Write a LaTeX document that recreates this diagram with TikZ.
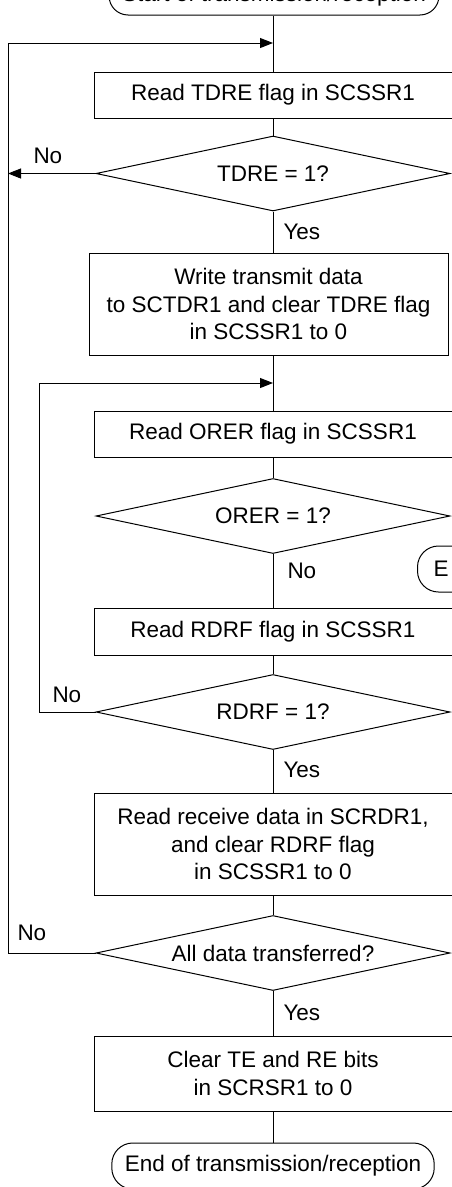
\documentclass[tikz,border=0pt]{standalone}
\usepackage{fontspec}
\setmainfont{Liberation Sans}
\usepackage{tikz}
\usetikzlibrary{arrows.meta,calc,positioning,shapes.geometric}
\newcommand{\flowfont}{\fontsize{22.5pt}{27.5pt}\selectfont}

\begin{document}
\begin{tikzpicture}[x=1pt, y=-1pt, line width=1pt, >={Triangle[length=13pt,width=10pt]},
  every node/.style={font=\flowfont},
  proc/.style={draw, rectangle, align=center, inner sep=0pt, minimum width=358pt},
  decide/.style={draw, diamond, aspect=4.72, inner sep=0pt, minimum width=354pt, minimum height=75pt},
  term/.style={draw, rectangle, rounded corners=21pt, minimum height=46pt, inner xsep=13pt},
  lbl/.style={inner sep=0pt, anchor=west}]
  \useasboundingbox (0,0) rectangle (451,1187);
  \node[term, minimum width=322pt, minimum height=38pt, rounded corners=19pt] (Start) at (274,-4) {Start of transmission/reception};
  \coordinate (J1) at (273,43);
  \coordinate (J2) at (273,383);
  \coordinate (L1) at (8,43);
  \coordinate (L2) at (39,383);
  \node[proc, minimum height=46pt] (RdTDRE) at (273,95) {Read TDRE flag in SCSSR1};
  \node[decide] (QTDRE) at (273,173.5) {TDRE = 1?};
  \node[proc, minimum width=359pt, minimum height=102pt] (WrTx) at (268.5,304) {Write transmit data\\to SCTDR1 and clear TDRE flag\\in SCSSR1 to 0};
  \node[proc, minimum height=46pt] (RdORER) at (273,434) {Read ORER flag in SCSSR1};
  \node[decide] (QORER) at (273,516) {ORER = 1?};
  \node[term, anchor=west, text width=90pt, align=left, inner xsep=16pt] (Err) at (417,569) {E};
  \node[proc, minimum height=47pt] (RdRDRF) at (273,631.5) {Read RDRF flag in SCSSR1};
  \node[decide] (QRDRF) at (273,712) {RDRF = 1?};
  \node[proc, minimum height=102pt] (RdRx) at (273,844) {Read receive data in SCRDR1,\\and clear RDRF flag\\in SCSSR1 to 0};
  \node[decide] (QAll) at (273,953) {All data transferred?};
  \node[proc, minimum height=75pt] (Clr) at (273,1073.5) {Clear TE and RE bits\\in SCRSR1 to 0};
  \node[term, minimum width=322pt] (End) at (273,1166) {End of transmission/reception};
  \draw (Start.south -| J1) -- (RdTDRE.north -| J1);
  \draw (RdTDRE) -- (QTDRE);
  \draw (QTDRE.south) -- (QTDRE.south |- WrTx.north);
  \draw (QTDRE.south |- WrTx.south) -- (RdORER.north);
  \draw (RdORER) -- (QORER);
  \draw (QORER) -- (RdRDRF);
  \draw (RdRDRF) -- (QRDRF);
  \draw (QRDRF) -- (RdRx);
  \draw (RdRx) -- (QAll);
  \draw (QAll) -- (Clr);
  \draw (Clr) -- (End);
  \draw[->] (QTDRE.west) -- (QTDRE.west -| L1);
  \draw[->] (QAll.west) -| (L1) -- (J1);
  \draw[->] (QRDRF.west) -| (L2) -- (J2);
  \node[lbl] (NoTDRE) at (33,156) {No};
  \node[lbl] (YesTDRE) at (283,232) {Yes};
  \node[lbl] (NoORER) at (287,571) {No};
  \node[lbl] (NoRDRF) at (52,695) {No};
  \node[lbl] (YesRDRF) at (283,770) {Yes};
  \node[lbl] (NoAll) at (17,933) {No};
  \node[lbl] (YesAll) at (283,1013) {Yes};
\end{tikzpicture}
\end{document}
